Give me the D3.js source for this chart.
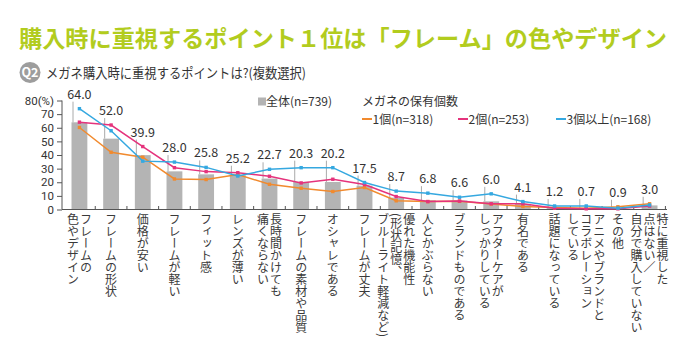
<!DOCTYPE html>
<html><head><meta charset="utf-8">
<script src="https://cdn.jsdelivr.net/npm/d3@7"></script>
<style>
html,body{margin:0;padding:0;background:#fff;}
svg text{font-family:"Noto Sans CJK JP","Noto Sans",sans-serif;}
svg .tick text{font-family:Roboto,"Liberation Sans",sans-serif;}
</style></head>
<body><svg id="c" width="690" height="358"></svg>
<script>
const title = "購入時に重視するポイント１位は「フレーム」の色やデザイン";
const subtitle = "メガネ購入時に重視するポイントは?(複数選択)";
const categories = [
  ["フレームの","色やデザイン"],
  ["フレームの形状"],
  ["価格が安い"],
  ["フレームが軽い"],
  ["フィット感"],
  ["レンズが薄い"],
  ["長時間かけても","痛くならない"],
  ["フレームの素材や品質"],
  ["オシャレである"],
  ["フレームが丈夫"],
  ["優れた機能性","(形状記憶、","ブルーライト軽減など)"],
  ["人とかぶらない"],
  ["ブランドものである"],
  ["アフターケアが","しっかりしている"],
  ["有名である"],
  ["話題になっている"],
  ["アニメやブランドと","コラボレーション","している"],
  ["その他"],
  ["特に重視した","点はない／","自分で購入していない"]
];
const totalValues = [64.0,52.0,39.9,28.0,25.8,25.2,22.7,20.3,20.2,17.5,8.7,6.8,6.6,6.0,4.1,1.2,0.7,0.9,3.0];
const oneValues   = [60.2,42.0,38.4,22.4,22.0,25.6,18.5,15.6,13.2,16.1,6.4,5.8,6.0,4.0,2.2,1.5,1.0,2.0,4.2];
const twoValues   = [64.1,62.0,46.2,30.7,27.8,27.0,24.4,19.5,22.2,18.3,9.5,5.8,6.2,4.2,4.2,0.9,0.5,0.5,2.5];
const threeValues = [74.0,57.8,35.5,34.8,30.9,24.6,29.5,30.7,30.7,19.8,13.5,12.0,9.0,11.5,5.8,2.6,2.6,1.0,3.3];
const yTicks = [0,10,20,30,40,50,60,70,80];
const legendTotal = "全体(n=739)";
const legendHead = "メガネの保有個数";
const seriesNames = ["1個(n=318)","2個(n=253)","3個以上(n=168)"];
const seriesColors = ["#f18a2e","#e5337c","#35a8e0"];

const svg = d3.select("#c");
const idx = d3.range(categories.length);
const x = d3.scaleBand().domain(idx).range([62,667]).paddingInner(0.5).paddingOuter(0.3);
const y = d3.scaleLinear().domain([0,80]).range([209.5,100.5]);
const cx = i => x(i) + x.bandwidth()/2;

// title
svg.append("text").attr("x",19).attr("y",47).attr("font-size",23).attr("font-weight",700)
  .attr("fill","#b2cc1e").attr("textLength",648).attr("lengthAdjust","spacingAndGlyphs").text(title);
// Q2 badge
svg.append("circle").attr("cx",30).attr("cy",72.5).attr("r",10.5).attr("fill","#9d9d9d");
svg.append("text").attr("x",30).attr("y",77).attr("text-anchor","middle").attr("font-size",12.5)
  .attr("font-weight",700).attr("fill","#fff").text("Q2");
svg.append("text").attr("x",46).attr("y",78).attr("font-size",13.5).attr("fill","#333")
  .attr("textLength",260).attr("lengthAdjust","spacingAndGlyphs").text(subtitle);

// y axis
const yAxis = d3.axisLeft(y).tickValues(yTicks).tickSize(5).tickPadding(3)
  .tickFormat(d => d===80 ? "80(%)" : d);
const ga = svg.append("g").attr("transform","translate(62,0)").call(yAxis);
ga.attr("font-family",null).attr("font-size",null);
ga.select(".domain").attr("stroke","#555").attr("d","M0,100.5V209.5");
ga.selectAll(".tick line").attr("stroke","#555");
ga.selectAll(".tick text").attr("font-size",11.5).attr("fill","#333");

// bars
svg.append("g").selectAll("rect").data(idx).join("rect")
  .attr("x",i=>x(i)).attr("width",x.bandwidth())
  .attr("y",i=>y(totalValues[i])).attr("height",i=>y(0)-y(totalValues[i]))
  .attr("fill","#b4b4b4");

// x axis line + ticks
svg.append("line").attr("x1",62).attr("x2",667).attr("y1",y(0)).attr("y2",y(0)).attr("stroke","#555");
svg.append("g").selectAll("line").data(idx).join("line")
  .attr("x1",i=>cx(i)+x.step()/2).attr("x2",i=>cx(i)+x.step()/2)
  .attr("y1",y(0)).attr("y2",y(0)-3.5).attr("stroke","#555");

// value labels + leader lines
const labY = i => y(Math.max(totalValues[i],oneValues[i],twoValues[i],threeValues[i])) - 10;
svg.append("g").selectAll("line").data(idx).join("line")
  .attr("x1",i=>x(i)+1.5).attr("x2",i=>x(i)+1.5)
  .attr("y1",i=>labY(i)+3).attr("y2",i=>y(totalValues[i]))
  .attr("stroke","#aaa").attr("stroke-width",1);
svg.append("g").selectAll("text").data(idx).join("text")
  .attr("x",i=>cx(i)).attr("y",labY).attr("text-anchor","middle")
  .attr("font-size",12.5).attr("fill","#333").text(i=>totalValues[i].toFixed(1));

// lines
const series = [oneValues,twoValues,threeValues];
series.forEach((vals,s)=>{
  const line = d3.line().x((d,i)=>cx(i)).y(d=>y(d));
  svg.append("path").datum(vals).attr("d",line).attr("fill","none")
    .attr("stroke",seriesColors[s]).attr("stroke-width",1.5);
  svg.append("g").selectAll("rect").data(vals).join("rect")
    .attr("x",(d,i)=>cx(i)-1.7).attr("y",d=>y(d)-1.7).attr("width",3.4).attr("height",3.4)
    .attr("fill",seriesColors[s]);
});

// category labels (vertical)
const colGap = 13;
idx.forEach(i=>{
  const lines = categories[i];
  const n = lines.length;
  lines.forEach((t,j)=>{
    const xx = cx(i) + ((n-1)/2 - j)*colGap;
    svg.append("text").attr("x",xx).attr("y",213)
      .attr("writing-mode","vertical-rl").attr("font-size",12)
      .attr("fill","#3a3a3a").text(t);
  });
});

// legend
svg.append("rect").attr("x",258).attr("y",97.5).attr("width",8).attr("height",8).attr("fill","#b4b4b4");
svg.append("text").attr("x",266).attr("y",106).attr("font-size",12).attr("fill","#333").text(legendTotal);
svg.append("text").attr("x",362).attr("y",106).attr("font-size",12).attr("fill","#333").text(legendHead);
const legX = [362,458,556];
seriesNames.forEach((nm,s)=>{
  svg.append("line").attr("x1",legX[s]).attr("x2",legX[s]+10).attr("y1",119).attr("y2",119)
    .attr("stroke",seriesColors[s]).attr("stroke-width",2);
  svg.append("text").attr("x",legX[s]+10.5).attr("y",123.5).attr("font-size",12).attr("fill","#333").text(nm);
});
</script></body></html>
